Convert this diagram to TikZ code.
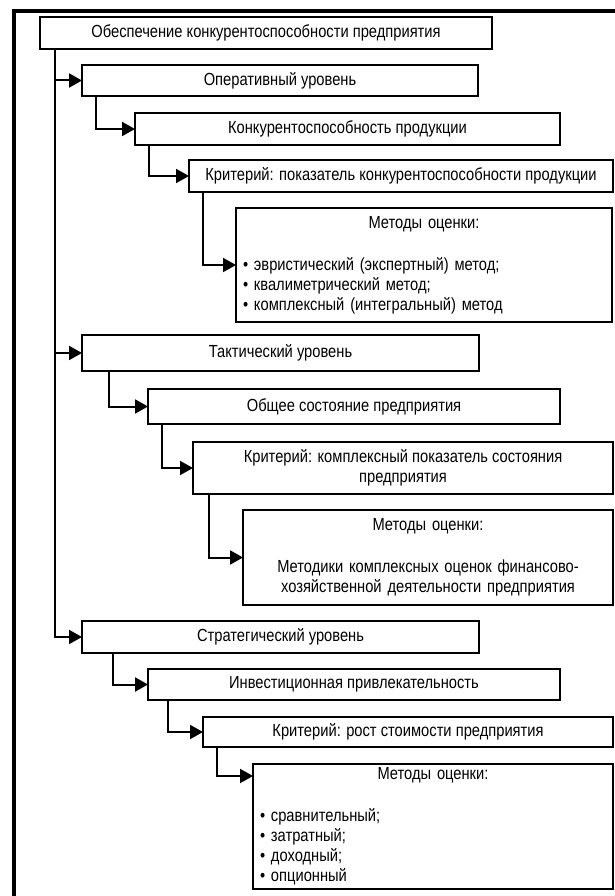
\documentclass[tikz,border=0pt]{standalone}
\usepackage{fontspec}
\setmainfont{Liberation Sans}[FakeStretch=0.84]
\usepackage{tikz}
\usetikzlibrary{arrows.meta}

\begin{document}
\begin{tikzpicture}[
  x=1pt, y=-1pt,
  font=\fontsize{17.5}{20}\selectfont,
  lvlbox/.style={draw, line width=2pt, anchor=north west, inner sep=0pt, outer sep=0pt, align=center},
  methbox/.style={draw, line width=2pt, anchor=north west, inner xsep=7pt, inner ysep=0pt, outer sep=0pt},
  arr/.style={-{Triangle[length=13pt,width=14pt]}, line width=2pt},
  frame/.style={line width=4pt}
]
\useasboundingbox (0,0) rectangle (615,896);
\draw[frame] (14,896) |- (615,11);

\node[lvlbox, minimum width=452pt, minimum height=32pt] (B0) at (40,17) {Обеспечение конкурентоспособности предприятия};

% operational level
\node[lvlbox, minimum width=396pt, minimum height=31pt] (L1) at (82,65) {Оперативный уровень};
\node[lvlbox, minimum width=425pt, minimum height=32pt] (P1) at (135,113) {Конкурентоспособность продукции};
\node[lvlbox, minimum width=424pt, minimum height=32pt] (C1) at (189,160) {Критерий: показатель конкурентоспособности продукции};
\node[methbox, text width=362pt, minimum height=114pt, align=left] (M1) at (236,208) {{\centering Методы оценки:\par}\vspace{22pt}• эвристический (экспертный) метод;\\• квалиметрический метод;\\• комплексный (интегральный) метод};

% tactical level
\node[lvlbox, minimum width=397pt, minimum height=36pt] (L2) at (82,335) {Тактический уровень};
\node[lvlbox, minimum width=412pt, minimum height=35pt] (P2) at (148,389) {Общее состояние предприятия};
\node[lvlbox, minimum width=420pt, minimum height=52pt] (C2) at (193,442) {Критерий: комплексный показатель состояния\\предприятия};
\node[methbox, text width=356pt, minimum height=95pt, align=center] (M2) at (243,510) {Методы оценки:\\[22pt]Методики комплексных оценок финансово-\\хозяйственной деятельности предприятия};

% strategic level
\node[lvlbox, minimum width=397pt, minimum height=32pt] (L3) at (82,621) {Стратегический уровень};
\node[lvlbox, minimum width=412pt, minimum height=31pt] (P3) at (148,669) {Инвестиционная привлекательность};
\node[lvlbox, minimum width=410pt, minimum height=30pt] (C3) at (203,717) {Критерий: рост стоимости предприятия};
\node[methbox, text width=346pt, minimum height=125pt, align=left] (M3) at (253,764) {{\centering Методы оценки:\par}\vspace{22pt}• сравнительный;\\• затратный;\\• доходный;\\• опционный};

\draw[arr] ([xshift=15pt]B0.south west) |- (L1.west);
\draw[arr] ([xshift=15pt]B0.south west) |- (L2.west);
\draw[arr] ([xshift=15pt]B0.south west) |- (L3.west);

\draw[arr] ([xshift=14pt]L1.south west) |- (P1.west);
\draw[arr] ([xshift=14pt]P1.south west) |- (C1.west);
\draw[arr] ([xshift=14pt]C1.south west) |- (M1.west);

\draw[arr] ([xshift=27pt]L2.south west) |- (P2.west);
\draw[arr] ([xshift=14pt]P2.south west) |- (C2.west);
\draw[arr] ([xshift=16pt]C2.south west) |- (M2.west);

\draw[arr] ([xshift=31pt]L3.south west) |- (P3.west);
\draw[arr] ([xshift=20pt]P3.south west) |- (C3.west);
\draw[arr] ([xshift=14pt]C3.south west) |- ([yshift=-12pt]M3.north west);
\end{tikzpicture}
\end{document}
